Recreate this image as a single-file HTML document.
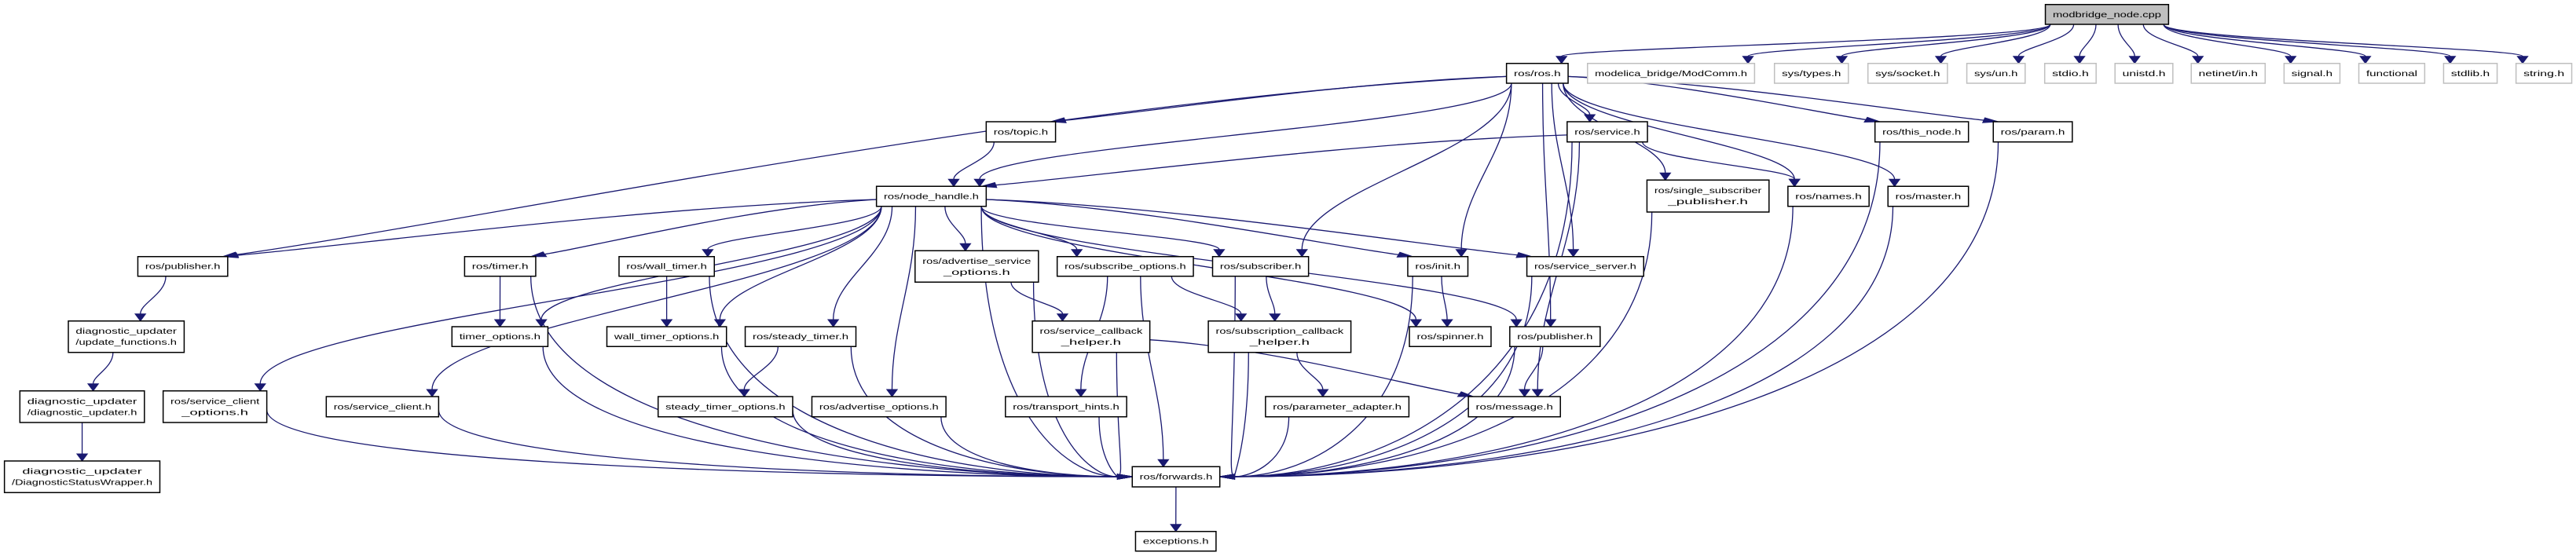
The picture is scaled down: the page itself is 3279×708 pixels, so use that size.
<!DOCTYPE html>
<html><head><meta charset="utf-8"><style>
html,body{margin:0;padding:0;background:#fff;}
svg{display:block;}
text{font-family:"Liberation Sans",sans-serif;font-size:10px;fill:#000;}
</style></head><body>
<svg id="g" width="3279" height="708" viewBox="0 0 1568 708" preserveAspectRatio="none" xmlns="http://www.w3.org/2000/svg"></svg>
<script>
var N={
main:[1245,1320,5.7,31,["modbridge_node.cpp"],"main"],
ros:[917,954.5,80.7,106,["ros/ros.h"]],
modcomm:[966.3,1068,80.7,106,["modelica_bridge/ModComm.h"],"ext"],
types:[1080.1,1125.1,80.7,106,["sys/types.h"],"ext"],
socket:[1137,1185.4,80.7,106,["sys/socket.h"],"ext"],
un:[1197.2,1232.7,80.7,106,["sys/un.h"],"ext"],
stdio:[1244.6,1275.9,80.7,106,["stdio.h"],"ext"],
unistd:[1287.4,1322.6,80.7,106,["unistd.h"],"ext"],
netin:[1333.8,1378.8,80.7,106,["netinet/in.h"],"ext"],
signal:[1390.3,1424.3,80.7,106,["signal.h"],"ext"],
func:[1435.8,1475.9,80.7,106,["functional"],"ext"],
stdlib:[1487.4,1520,80.7,106,["stdlib.h"],"ext"],
string:[1531.5,1565.4,80.7,106,["string.h"],"ext"],
topic:[600.3,642.5,155,180.7,["ros/topic.h"]],
service:[953.9,1002.8,155,180.7,["ros/service.h"]],
thisnode:[1141.3,1198.2,155,180.7,["ros/this_node.h"]],
param:[1213.3,1261.4,155,180.7,["ros/param.h"]],
nh:[533.5,600.3,237.3,262.7,["ros/node_handle.h"]],
ssp:[1002.5,1076.8,229.3,270,["ros/single_subscriber","_publisher.h"]],
names:[1088.3,1137.7,237.3,262.7,["ros/names.h"]],
master:[1149.2,1198.2,237.3,262.7,["ros/master.h"]],
pubL:[83.9,138.6,326.7,351.7,["ros/publisher.h"]],
timer:[282.8,326.1,326.7,351.7,["ros/timer.h"]],
wtimer:[376.8,434.8,326.7,351.7,["ros/wall_timer.h"]],
aso:[557,632.1,319.3,359.3,["ros/advertise_service","_options.h"]],
subopt:[643.5,726.4,326.7,351.7,["ros/subscribe_options.h"]],
sub:[738.1,796.5,326.7,351.7,["ros/subscriber.h"]],
init:[856.9,893.5,326.7,351.7,["ros/init.h"]],
ssrv:[929.4,1000.5,326.7,351.7,["ros/service_server.h"]],
upd:[41.6,112.1,408.7,448.7,["diagnostic_updater","/update_functions.h"]],
topt:[275.1,333.5,416,441.3,["timer_options.h"]],
wtopt:[369.4,442.2,416,441.3,["wall_timer_options.h"]],
stimer:[453.6,521,416,441.3,["ros/steady_timer.h"]],
sch:[628.4,699.9,408.7,448.7,["ros/service_callback","_helper.h"]],
subch:[735.5,822.3,408.7,448.7,["ros/subscription_callback","_helper.h"]],
spinner:[857.9,907.6,416,441.3,["ros/spinner.h"]],
pubR:[919,974,416,441.3,["ros/publisher.h"]],
du:[12.1,87.9,497.7,538,["diagnostic_updater","/diagnostic_updater.h"]],
sco:[99.3,162.4,497.7,538,["ros/service_client","_options.h"]],
sc:[198.6,267,505,530.7,["ros/service_client.h"]],
stopt:[400.6,482.5,505,530.7,["steady_timer_options.h"]],
ao:[494.2,575.8,505,530.7,["ros/advertise_options.h"]],
th:[612,685.8,505,530.7,["ros/transport_hints.h"]],
pa:[770.3,857.6,505,530.7,["ros/parameter_adapter.h"]],
msg:[893.8,949.8,505,530.7,["ros/message.h"]],
fw:[689.2,742.5,594.3,620,["ros/forwards.h"]],
exc:[691.2,740.2,676.7,701.7,["exceptions.h"]],
dsw:[2.7,97.3,587,627.3,["diagnostic_updater","/DiagnosticStatusWrapper.h"]]
};
var E=[
["main","ros"],["main","modcomm"],["main","types"],["main","socket"],["main","un"],["main","stdio"],["main","unistd"],["main","netin"],["main","signal"],["main","func"],["main","stdlib"],["main","string"],
["ros","pubL"],["ros","topic"],["ros","nh"],["ros","sub"],["ros","init"],["ros","pubR"],["ros","ssrv"],["ros","service"],["ros","ssp"],["ros","names"],["ros","master"],["ros","thisnode"],["ros","param"],
["topic","nh"],["service","nh"],["service","names"],["service","msg"],["service","fw"],
["nh","pubL"],["nh","timer"],["nh","wtimer"],["nh","sco"],["nh","sc"],["nh","topt"],["nh","wtopt"],["nh","stimer"],["nh","ao"],["nh","aso"],["nh","subopt"],["nh","sub"],["nh","spinner"],["nh","init"],["nh","pubR"],["nh","ssrv"],["nh","fw"],
["pubL","upd"],["upd","du"],["du","dsw"],
["timer","topt"],["timer","fw"],["wtimer","wtopt"],["wtimer","fw"],["stimer","stopt"],["stimer","fw"],
["topt","fw"],["wtopt","fw"],["stopt","fw"],["sco","fw"],["sc","fw"],["ao","fw"],
["aso","sch"],["aso","fw"],["subopt","th"],["subopt","fw"],["subopt","subch"],["sub","subch"],["sub","fw"],
["init","spinner"],["init","fw"],["ssrv","fw"],["pubR","msg"],["pubR","fw"],["sch","msg"],["sch","fw"],
["subch","pa"],["subch","fw"],["th","fw"],["pa","fw"],["ssp","fw"],["names","fw"],["master","fw"],["thisnode","fw"],["param","fw"],["fw","exc"]
];
var S=document.getElementById('g'),ns="http://www.w3.org/2000/svg",C="#191970";
function el(t,a){var e=document.createElementNS(ns,t);for(var k in a)e.setAttribute(k,a[k]);S.appendChild(e);return e;}
function cl(v,a,b){return Math.max(a,Math.min(b,v));}
E.forEach(function(p){
 var s=N[p[0]],t=N[p[1]];
 var scx=(s[0]+s[1])/2,tcx=(t[0]+t[1])/2;
 var sx=scx+cl((tcx-scx)*0.3,-(s[1]-s[0])/2+3,(s[1]-s[0])/2-3),sy=s[3];
 var hz=Math.abs(tcx-scx)>3.5*(t[2]-s[3])&&p[0]!="main";
 if(hz){ if(tcx<scx){sx=s[0];}else{sx=s[1];} sy=(s[2]+s[3])/2+4; }
 var tx,ty,c1,c2,dx,dy;
 if(p[1]=="fw"&&(tcx-scx>40||scx-tcx>40)){
   ty=607;
   if(scx<tcx){tx=t[0];}else{tx=t[1];}
   c1=[sx,sy+(ty-sy)*0.75];c2=[tx+(sx-tx)*0.45,ty];
 } else {
   tx=tcx+cl((scx-tcx)*0.25,-(t[1]-t[0])/2+4,(t[1]-t[0])/2-4);ty=t[2];
   if(hz){tx=tcx+((scx>tcx)?1:-1)*((t[1]-t[0])/2-3);}
   var d=(ty-sy)*0.4;
   if(hz){c1=[sx+(tx-sx)*0.35,sy+d*0.3];c2=[tx+(sx-tx)*0.2,ty-d*0.5];}
   else {c1=[sx,sy+d];c2=[tx,ty-d];}
 }
 dx=tx-c2[0];dy=ty-c2[1];var L=Math.sqrt(dx*dx+dy*dy)||1;dx/=L;dy/=L;
 var al=9,aw=3.2,bx=tx-dx*al,by=ty-dy*al;
 el('path',{d:"M"+sx+","+sy+" C"+c1[0]+","+c1[1]+" "+c2[0]+","+c2[1]+" "+bx+","+by,fill:"none",stroke:C,"stroke-width":"1.3","vector-effect":"non-scaling-stroke"});
 el('polygon',{points:tx+","+ty+" "+(bx-dy*aw)+","+(by+dx*aw)+" "+(bx+dy*aw)+","+(by-dx*aw),fill:C,stroke:C,"stroke-width":"1","vector-effect":"non-scaling-stroke"});
});
for(var k in N){var n=N[k];
 el('rect',{x:n[0],y:n[2],width:n[1]-n[0],height:n[3]-n[2],fill:n[5]=="main"?"#bfbfbf":"#fff",stroke:n[5]=="ext"?"#bfbfbf":"#000","stroke-width":"1.5","vector-effect":"non-scaling-stroke"});
 var lines=n[4],cx=(n[0]+n[1])/2,h=n[3]-n[2],w=n[1]-n[0];
 lines.forEach(function(s,i){
  var y=n[2]+h/2+3.5+(i-(lines.length-1)/2)*14;
  var tw=Math.min(w-9,s.length*4.05);
  var t=el('text',{x:cx,y:y,"text-anchor":"middle",textLength:tw,lengthAdjust:"spacingAndGlyphs"});t.textContent=s;
 });
}
</script>
</body></html>
